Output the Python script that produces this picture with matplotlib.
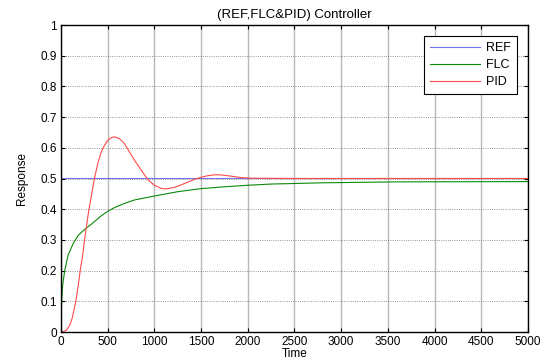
import matplotlib
matplotlib.use("Agg")
import matplotlib.pyplot as plt

plt.rcParams['font.family'] = ['Liberation Sans', 'DejaVu Sans']
plt.rcParams['font.size'] = 8.5

# values
ref_t = [0, 1, 5000]
ref_v = [0, 0.5, 0.5]

flc_t = [0, 3, 7, 18, 40, 76, 130, 185, 257, 329, 429, 500, 571, 680, 786,
         1000, 1250, 1500, 1750, 2000, 2250, 2400, 2800, 3600, 5000]
flc_v = [0, 0.05, 0.1, 0.152, 0.2, 0.25, 0.288, 0.315, 0.335, 0.352, 0.378,
         0.393, 0.405, 0.419, 0.43, 0.443, 0.457, 0.467, 0.473, 0.478, 0.482,
         0.483, 0.486, 0.489, 0.49]

pid_t = [0, 30, 58, 94, 120, 159, 185, 206, 232, 253, 275, 300, 329, 358,
         395, 430, 455, 495, 530, 571, 625, 679, 732, 786, 857, 929, 1000,
         1071, 1120, 1214, 1300, 1357, 1429, 1500, 1570, 1643, 1700, 1786,
         1860, 1929, 2036, 2500, 5000]
pid_v = [0, 0.002, 0.006, 0.022, 0.045, 0.1, 0.152, 0.2, 0.25, 0.3, 0.35,
         0.4, 0.45, 0.5, 0.55, 0.585, 0.602, 0.622, 0.632, 0.636, 0.63,
         0.614, 0.587, 0.56, 0.528, 0.497, 0.478, 0.468, 0.466, 0.471, 0.481,
         0.488, 0.497, 0.504, 0.509, 0.512, 0.512, 0.509, 0.506, 0.503,
         0.501, 0.5, 0.5]

fig = plt.figure(figsize=(5.43, 3.64), dpi=100)
ax = fig.add_axes([0.1123, 0.0879, 0.8601, 0.8434])

ax.plot(ref_t, ref_v, color='#7272e6', lw=0.8, label='REF')
ax.plot(flc_t, flc_v, color='#0a8a0a', lw=0.8, label='FLC')
ax.plot(pid_t, pid_v, color='#ff4a4a', lw=0.8, label='PID')

ax.set_xlim(0, 5000)
ax.set_ylim(0, 1)
ax.set_xticks(range(0, 5001, 500))
ax.set_yticks([i / 10 for i in range(11)])
ax.set_yticklabels(['0', '0.1', '0.2', '0.3', '0.4', '0.5', '0.6', '0.7', '0.8', '0.9', '1'])

ax.xaxis.grid(True, color='0.72', lw=1.0)
ax.yaxis.grid(True, color='0.45', ls=':', lw=0.6)
ax.set_axisbelow(True)

ax.tick_params(direction='in', length=3, top=True, right=True, pad=3)
for s in ax.spines.values():
    s.set_linewidth(1.0)

ax.set_title('(REF,FLC&PID) Controller', pad=5, fontsize=9.5)
ax.set_xlabel('Time', labelpad=0)
ax.set_ylabel('Response', labelpad=9)

leg = ax.legend(loc='upper right', fancybox=False, edgecolor='black',
                framealpha=1, handlelength=4.0, borderaxespad=0.9,
                fontsize=9, labelspacing=0.4, handletextpad=0.5,
                borderpad=0.45)
leg.get_frame().set_linewidth(0.8)

fig.savefig('out.png', dpi=100)
